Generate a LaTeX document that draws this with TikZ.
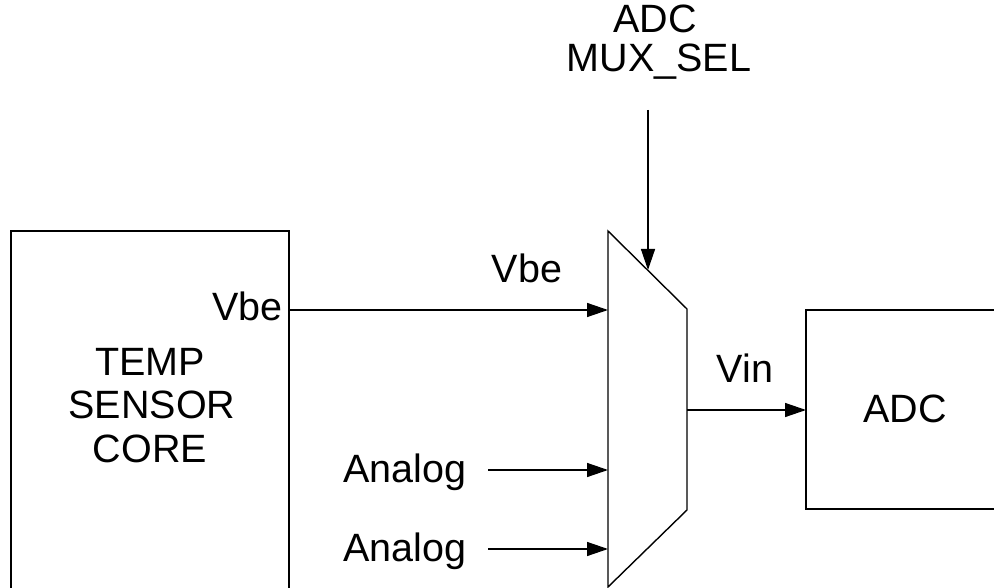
\documentclass[tikz,border=0pt]{standalone}
\usepackage{fontspec}
\setmainfont{Liberation Sans}
\usetikzlibrary{arrows.meta}
\begin{document}
\begin{tikzpicture}[x=1pt,y=-1pt,line width=1.4pt,
  >={Triangle[length=21pt,width=14pt]},
  lbl/.style={font=\fontsize{39.5}{46}\selectfont,inner sep=0pt,anchor=base}]
\useasboundingbox (0,0) rectangle (994,588);
% temp sensor core box (extends past the lower edge)
\coordinate (tBL) at (11,589);
\coordinate (tTL) at (11,231);
\coordinate (tTR) at (289,231);
\coordinate (tBR) at (289,589);
\draw (tBL) -- (tTL) -- (tTR) -- (tBR);
\node[lbl] (t1) at (150,375) {TEMP};
\node[lbl] (t2) at (152,418) {SENSOR};
\node[lbl] (t3) at (150,462) {CORE};
\node[lbl,anchor=base east] (vbeout) at (283,320) {Vbe};
\coordinate (tOut) at (289,310);
% mux
\coordinate (m1) at (608,231);
\coordinate (m2) at (687,309);
\coordinate (m3) at (687,510);
\coordinate (m4) at (608,587);
\draw (m1) -- (m2) -- (m3) -- (m4) -- cycle;
\coordinate (mIn1) at (608,310);
\coordinate (mIn2) at (608,470);
\coordinate (mIn3) at (608,549);
\coordinate (mOut) at (687,410);
\coordinate (mSel) at (648,270);
% adc box (extends past the right edge)
\coordinate (aTR) at (995,310);
\coordinate (aTL) at (806,310);
\coordinate (aBL) at (806,509);
\coordinate (aBR) at (995,509);
\draw (aTR) -- (aTL) -- (aBL) -- (aBR);
\coordinate (aIn) at (806,410);
\node[lbl] (adc) at (905,422) {ADC};
% labels
\node[lbl] (sel1) at (655,33) {ADC};
\node[lbl] (sel2) at (659,72) {MUX\_SEL};
\coordinate (selStart) at (648,110);
\node[lbl] (vbe) at (527,283) {Vbe};
\node[lbl] (vin) at (745,382) {Vin};
\node[lbl,anchor=base east] (an1) at (467,482) {Analog};
\node[lbl,anchor=base east] (an2) at (467,561) {Analog};
\coordinate (an1s) at (488,470);
\coordinate (an2s) at (488,549);
% connectors
\draw[->] (tOut) -- (mIn1);
\draw[->] (an1s) -- (mIn2);
\draw[->] (an2s) -- (mIn3);
\draw[->] (mOut) -- (aIn);
\draw[->] (selStart) -- (mSel);
\end{tikzpicture}
\end{document}
